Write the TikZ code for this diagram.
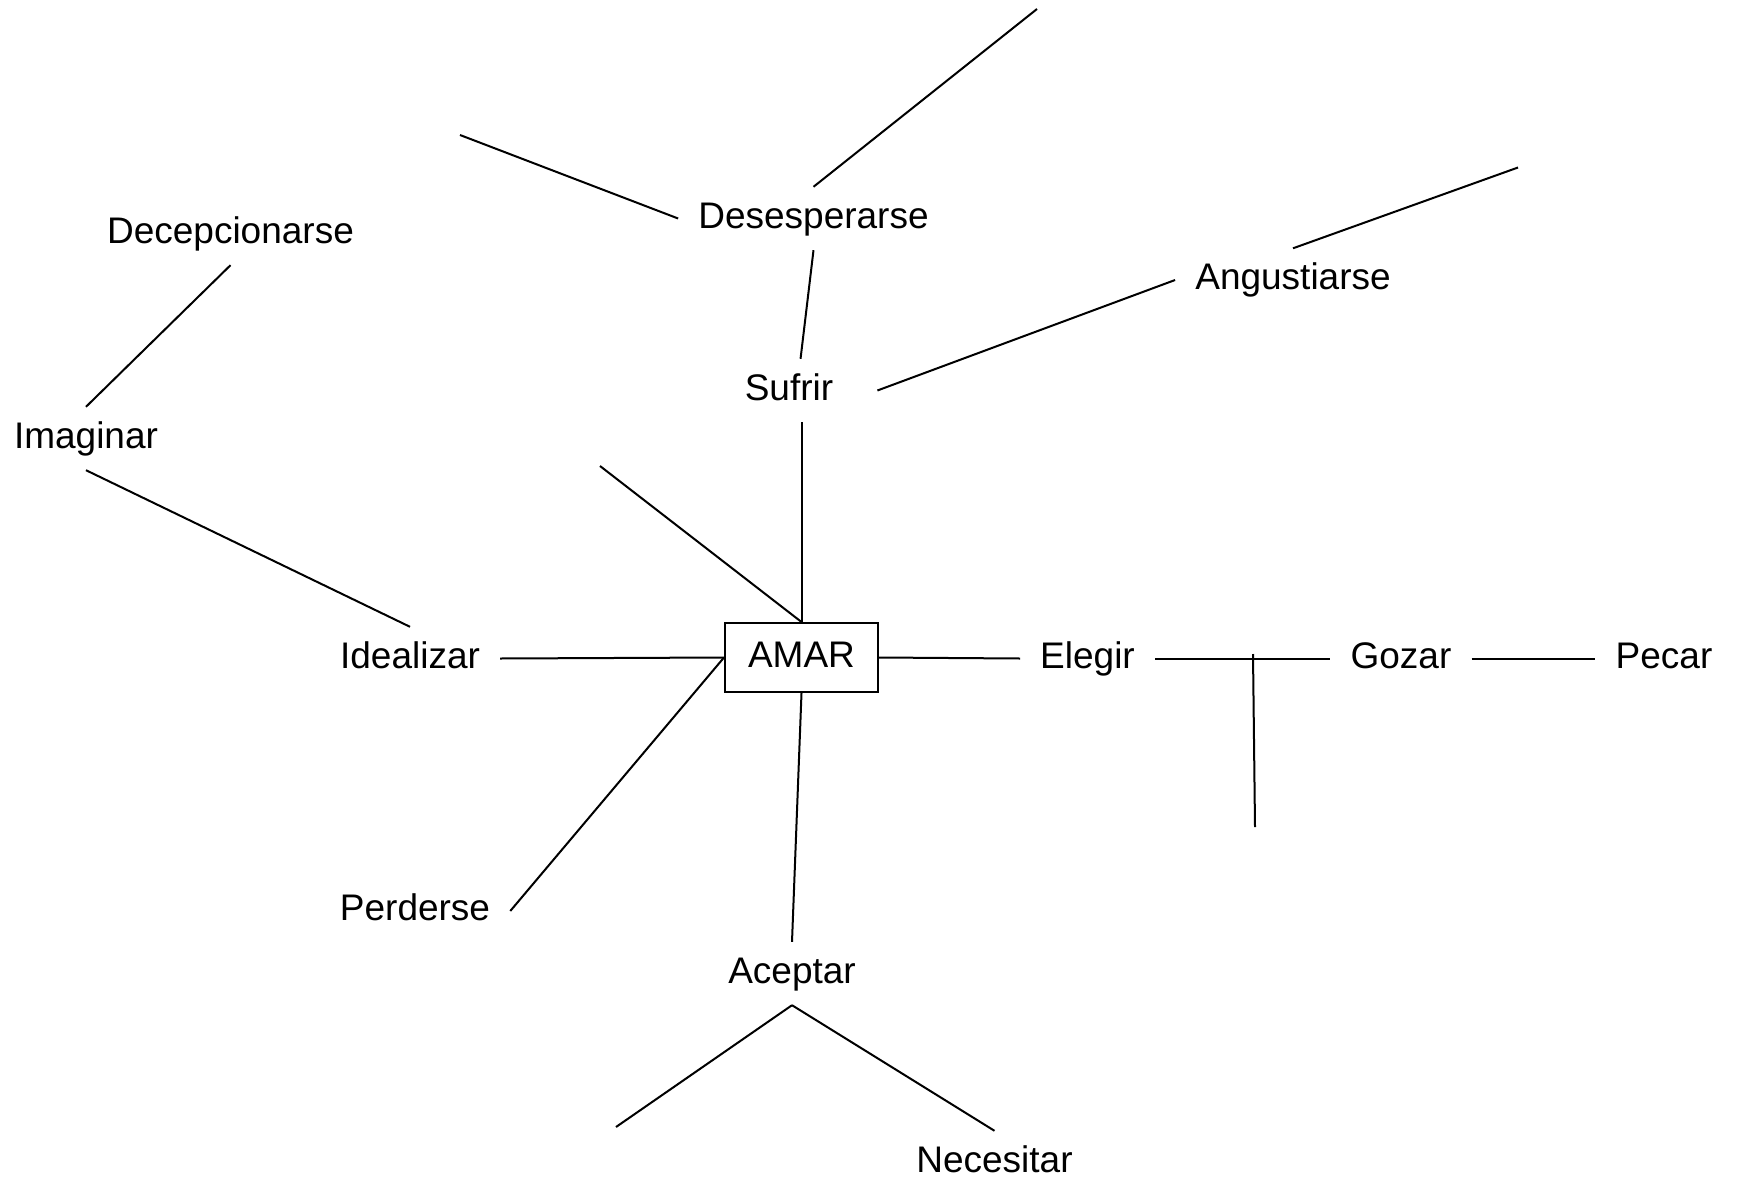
\documentclass[tikz,border=0pt]{standalone}
\usepackage{fontspec}
\setmainfont{Liberation Sans}
\usepackage{tikz}
\usetikzlibrary{calc}

\tikzset{
  word/.style={inner xsep=20pt, inner ysep=15pt, text height=26pt, text depth=7pt, anchor=base},
  verbbox/.style={word, draw, line width=2pt, minimum width=153pt, minimum height=69pt, inner sep=0pt},
  link/.style={line width=2pt}
}

\begin{document}
\begin{tikzpicture}[x=1pt, y=-1pt, font=\fontsize{37}{44}\selectfont]

\useasboundingbox (0,0) rectangle (1739,1180);

\node[verbbox] (amar) at (801.5,667) {AMAR};
\node[word] (ideal) at (410,668) {Idealizar};
\node[word] (elegir) at (1087.5,668) {Elegir};
\node[word] (gozar) at (1401,668) {Gozar};
\node[word] (pecar) at (1664,668) {Pecar};
\node[word] (sufrir) at (789,400) {Sufrir};
\node[word] (desesp) at (813.5,228) {Desesperarse};
\node[word] (angust) at (1293,289.5) {Angustiarse};
\node[word] (decep) at (230.5,243) {Decepcionarse};
\node[word] (imag) at (86,448) {Imaginar};
\node[word] (perd) at (415,920.5) {Perderse};
\node[word] (acept) at (792,983) {Aceptar};
\node[word] (necesit) at (994.5,1172) {Necesitar};

% free ends
\coordinate (desesp-ne) at (1037,9);
\coordinate (desesp-nw) at (460,135);
\coordinate (angust-ne) at (1518,167.5);
\coordinate (amar-nw) at (600,466);
\coordinate (tjoin) at (1253,654);
\coordinate (tfoot) at (1255,827);
\coordinate (acept-sw) at (616,1127);

\draw[link] (desesp.north) -- (desesp-ne);
\draw[link] (desesp.west) -- (desesp-nw);
\draw[link] (desesp.south) -- (sufrir.70);
\draw[link] ([xshift=24pt]sufrir.east) -- (angust.west);
\draw[link] (angust.north) -- (angust-ne);
\draw[link] (decep.south) -- (imag.north);
\draw[link] (imag.south) -- (ideal.north);
\draw[link] (ideal.east) -- (amar.west);
\draw[link] (amar-nw) -- (amar.north);
\draw[link] (amar.north) -- (sufrir.south -| amar.north);
\draw[link] (amar.east) -- (elegir.west);
\draw[link] (elegir.east) -- (gozar.west);
\draw[link] (tjoin) -- (tfoot);
\draw[link] (gozar.east) -- (pecar.west);
\draw[link] (amar.west) -- (perd.east);
\draw[link] (amar.south) -- (acept.north);
\draw[link] (acept.south) -- (acept-sw);
\draw[link] (acept.south) -- (necesit.north);

\end{tikzpicture}
\end{document}
